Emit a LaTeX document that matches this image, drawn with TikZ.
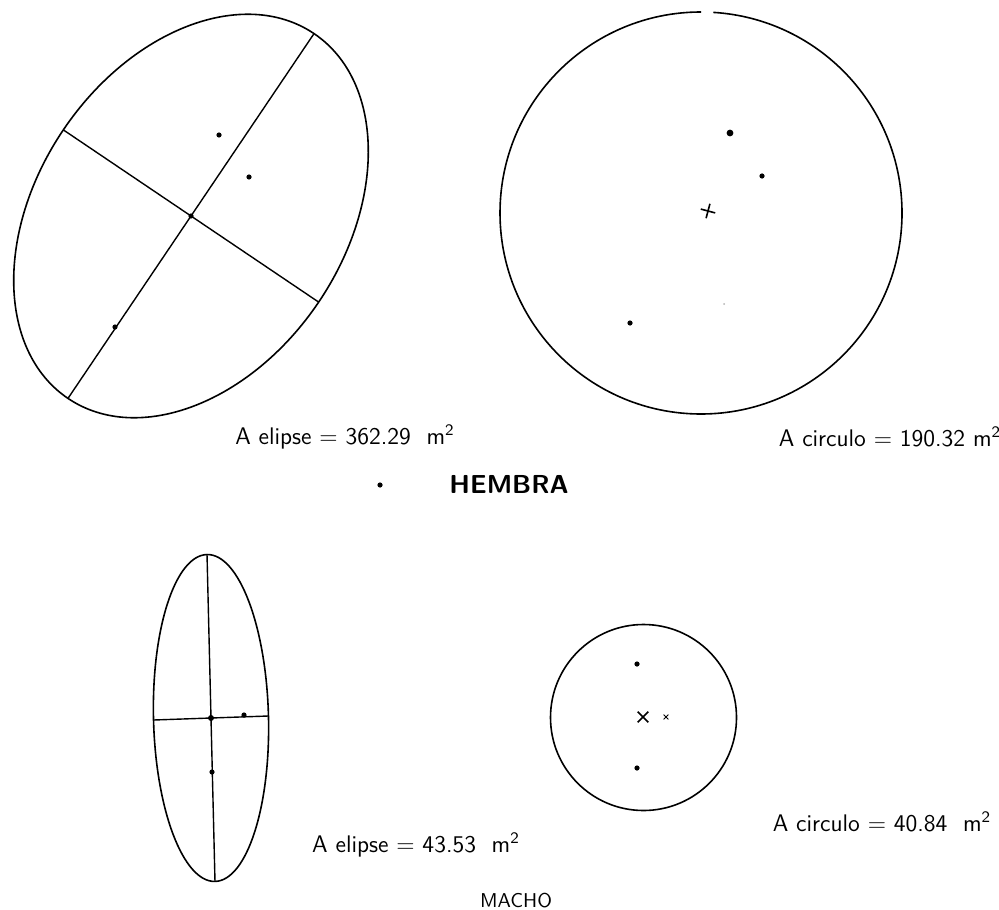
\documentclass[tikz,border=0pt]{standalone}
\usepackage{amsmath}
\usepackage{tikz}
\usetikzlibrary{shapes.misc}

\begin{document}
\begin{tikzpicture}[x=0.5pt,y=0.5pt,
    figline/.style={line width=0.8pt},
    axisline/.style={line width=0.7pt},
    dotmark/.style={circle,fill,inner sep=0pt,minimum size=2.6pt},
    crossmark/.style={cross out,draw,line width=0.8pt,inner sep=0pt,minimum size=4.5pt},
    lbl/.style={font=\sffamily\fontsize{12}{14}\selectfont,inner sep=0pt}]
    \useasboundingbox (0,0) rectangle (999,-909);

    % Hembra: ellipse with both axes
    \begin{scope}
        \coordinate (ec) at (191,-216);
        \draw[figline,rotate around={56:(ec)}] (ec) ellipse (220 and 154);
        \coordinate (ema) at ([shift={(56:220)}]ec);
        \coordinate (emb) at ([shift={(236:220)}]ec);
        \coordinate (emc) at ([shift={(146:154)}]ec);
        \coordinate (emd) at ([shift={(-34:154)}]ec);
        \draw[axisline] (emb) -- (ema);
        \draw[axisline] (emc) -- (emd);
        \node[dotmark] (ecen) at (ec) {};
        \node[dotmark] (eh1) at (219,-135) {};
        \node[dotmark] (eh2) at (249,-177) {};
        \node[dotmark] (eh3) at (115,-327) {};
        \node[lbl] (elbl) at (345,-437) {A elipse = 362.29\ \ m\textsuperscript{2}};
    \end{scope}

    % Hembra: circle
    \begin{scope}
        \coordinate (cc) at (701,-213);
        \draw[figline] ([shift={(90:201)}]cc) arc[start angle=90,end angle=446.5,radius=201];
        \node[crossmark,rotate=30] (ccen) at (708,-211) {};
        \node[dotmark,minimum size=3.4pt] (ch1) at (730,-133) {};
        \node[dotmark] (ch2) at (762,-176) {};
        \node[dotmark] (ch3) at (630,-323) {};
        \node[dotmark,minimum size=1pt,fill=gray!60] (ch4) at (724,-304) {};
        \node[lbl] (clbl) at (890,-437) {A circulo = 190.32 m\textsuperscript{2}};
    \end{scope}

    \node[dotmark] (hdot) at (380,-485) {};
    \node[lbl,font=\sffamily\bfseries\fontsize{13}{15}\selectfont] (hembra) at (509,-484) {HEMBRA};

    % Macho: ellipse with both axes
    \begin{scope}
        \coordinate (mc) at (211,-718);
        \draw[figline,rotate around={1.4:(mc)}] (mc) ellipse (57.5 and 163.5);
        \coordinate (mma) at ([shift={(91.4:163.5)}]mc);
        \coordinate (mmb) at ([shift={(271.4:163.5)}]mc);
        \coordinate (mmc) at ([shift={(182:57.5)}]mc);
        \coordinate (mmd) at ([shift={(2:57.5)}]mc);
        \draw[axisline] (mmb) -- (mma);
        \draw[axisline] (mmc) -- (mmd);
        \node[dotmark,minimum size=3pt] (mcen) at (mc) {};
        \node[dotmark] (mh1) at (244,-715) {};
        \node[dotmark] (mh2) at (212,-772) {};
        \node[lbl] (mlbl) at (416,-845) {A elipse = 43.53\ \ m\textsuperscript{2}};
    \end{scope}

    % Macho: circle
    \begin{scope}
        \coordinate (sc) at (643.5,-717.5);
        \draw[figline] (sc) circle (93);
        \node[crossmark] (scen) at (643,-717) {};
        \node[crossmark,line width=0.4pt,minimum size=2pt] (sh0) at (666,-717) {};
        \node[dotmark] (sh1) at (637,-664) {};
        \node[dotmark] (sh2) at (637,-768) {};
        \node[lbl] (slbl) at (882,-822) {A circulo = 40.84\ \ m\textsuperscript{2}};
    \end{scope}

    \node[lbl,font=\sffamily\fontsize{10}{12}\selectfont] (macho) at (516,-901) {MACHO};
\end{tikzpicture}
\end{document}
